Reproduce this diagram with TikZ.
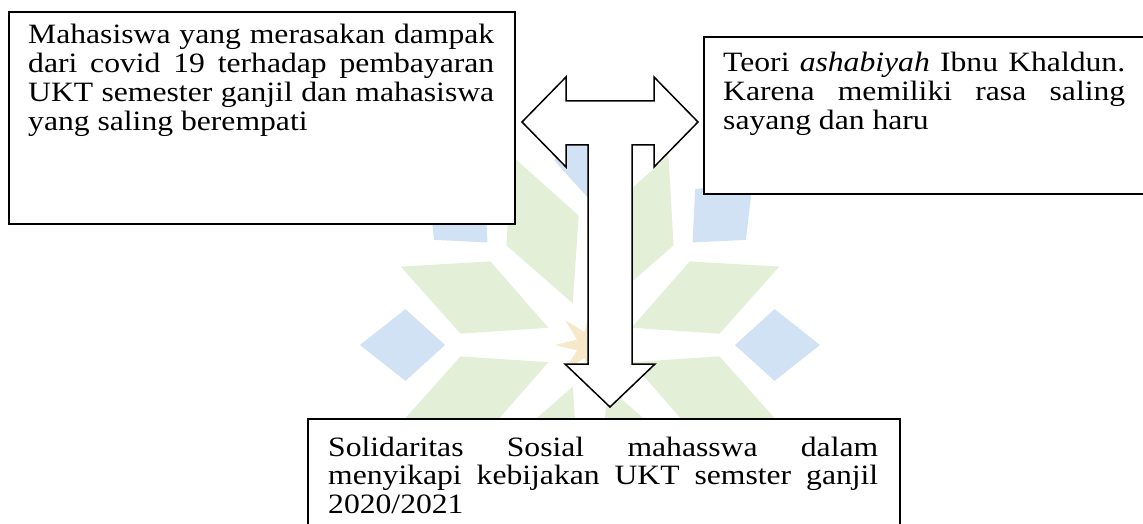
\documentclass[tikz,border=0pt]{standalone}
\usepackage{fontspec}
\setmainfont{Liberation Serif}[FakeStretch=1.13]
\usetikzlibrary{calc, positioning}

\definecolor{biru}{RGB}{208,226,243}
\definecolor{hijau}{RGB}{228,239,216}
\definecolor{emas}{RGB}{246,232,200}

\tikzset{
	kotak/.style={draw, line width=2.2pt, fill=white, anchor=north west, inner sep=0pt},
	isi/.style={anchor=base west, align=justify, inner sep=0pt, font=\fontsize{28}{28.8}\selectfont},
	panah/.style={draw, line width=1.5pt, fill=white, line join=miter},
}

\begin{document}
\begin{tikzpicture}[x=1pt, y=-1pt]
		%frame of the page
		\useasboundingbox (0,0) rectangle (1143,524);
		
		%watermark logo
		\coordinate (C) at (590,345);
		\foreach \a in {0,45,...,315}{
			\fill[biru] ($(C)+(\a:145)$) -- ($(C)+(\a+11:188)$) -- ($(C)+(\a:230)$) -- ($(C)+(\a-11:188)$) -- cycle;
			\fill[hijau] ($(C)+(\a+22.5:45)$) -- ($(C)+(\a+40:130)$) -- ($(C)+(\a+22.5:205)$) -- ($(C)+(\a+5:130)$) -- cycle;
		}
		\fill[emas] ($(C)+(0:35)$) \foreach \a in {22.5,45,...,337.5}{ -- ($(C)+(\a:{mod(\a,45)==0 ? 35 : 14})$) } -- cycle;
		
		%boxes
		\node[kotak, minimum width=506pt, minimum height=212pt] (kiri) at (8,11) {};
		\node[kotak, minimum width=442pt, minimum height=157pt] (kanan) at (703,36) {};
		\node[kotak, minimum width=592pt, minimum height=160pt] (bawah) at (307,418) {};
		
		%texts
		\node[isi, text width=466pt] (tkiri) at ([shift={(20,33)}]kiri.north west)
			{Mahasiswa yang merasakan dampak dari covid 19 terhadap pembayaran UKT semester ganjil dan mahasiswa yang saling berempati};
		\node[isi, text width=402pt] (tkanan) at ([shift={(20,36)}]kanan.north west)
			{Teori \textit{ashabiyah} Ibnu Khaldun. Karena memiliki rasa saling sayang dan haru};
		\node[isi, text width=550pt] (tbawah) at ([shift={(21,38)}]bawah.north west)
			{Solidaritas Sosial mahasswa dalam menyikapi kebijakan UKT semster ganjil 2020/2021};
		
		%block arrow
		\draw[panah] (522,122) -- (566,77) -- (566,101) -- (654,101) -- (654,77) -- (698,122)
			-- (654,167) -- (654,145) -- (632,145) -- (632,364) -- (655,364) -- (610,407)
			-- (565,364) -- (588,364) -- (588,145) -- (566,145) -- (566,167) -- cycle;

\end{tikzpicture}
\end{document}
